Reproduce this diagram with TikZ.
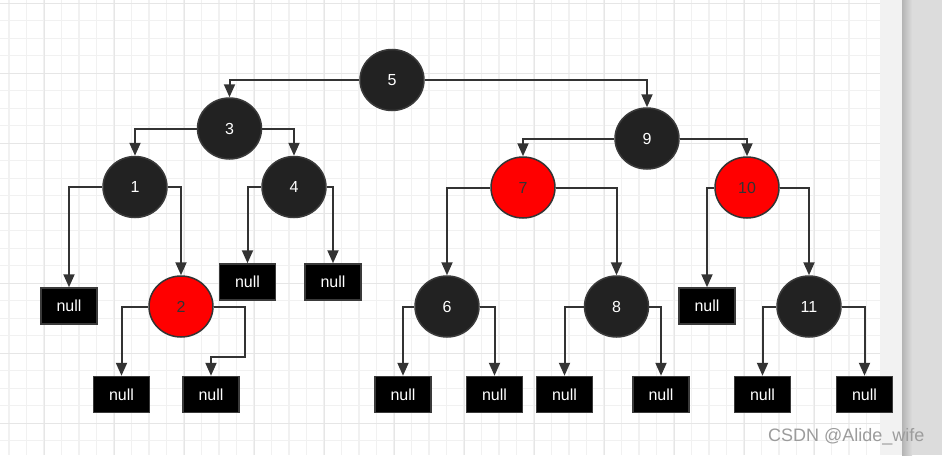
\documentclass[tikz,border=0pt]{standalone}
\usepackage{fontspec}
\setmainfont{Liberation Sans}
\usetikzlibrary{shapes.geometric,arrows.meta}
\definecolor{lineC}{HTML}{333333}
\definecolor{nodeF}{HTML}{222222}
\definecolor{nodeD}{HTML}{3A3A3A}
\definecolor{gridMinor}{HTML}{F1F1F1}
\definecolor{gridMajor}{HTML}{E6E6E6}
\definecolor{stripC}{HTML}{F2F2F2}
\definecolor{barL}{HTML}{B4B4B4}
\definecolor{barR}{HTML}{DCDCDC}
\definecolor{wmark}{HTML}{9C9C9C}
\tikzset{
  bnode/.style={ellipse, inner sep=0pt, minimum width=64pt, minimum height=61pt,
    fill=nodeF, draw=nodeD, line width=1.5pt, text=white,
    font=\fontsize{16}{18}\selectfont},
  rnode/.style={bnode, fill=red, draw=lineC, text=lineC},
  nbox/.style={rectangle, inner sep=0pt, minimum width=56pt, minimum height=36pt,
    fill=black, draw=nodeD, line width=1.5pt, text=white,
    font=\fontsize{16}{18}\selectfont},
  edge/.style={draw=lineC, line width=2pt,
    -{Triangle[width=11pt,length=13pt]}},
}
\begin{document}
\begin{tikzpicture}[x=1pt,y=-1pt]
\useasboundingbox (0,0) rectangle (942,455);
% background
\fill[white] (0,0) rectangle (880,455);
\foreach \x in {9,26.5,...,880} \draw[gridMinor, line width=1.2pt] (\x,0) -- (\x,455);
\foreach \y in {3.3,20.8,...,455} \draw[gridMinor, line width=1.2pt] (0,\y) -- (880,\y);
\foreach \x in {44.3,114.3,...,880} \draw[gridMajor, line width=1.4pt] (\x,0) -- (\x,455);
\foreach \y in {3.3,73.3,...,455} \draw[gridMajor, line width=1.4pt] (0,\y) -- (880,\y);
\fill[stripC] (880,0) rectangle (902,455);
\shade[left color=barL, right color=barR] (902,0) rectangle (912,455);
\fill[barR] (912,0) rectangle (942,455);

% nodes
\node[bnode] (n5) at (392,80) {5};
\node[bnode] (n3) at (229.5,128.5) {3};
\node[bnode] (n9) at (647,138.5) {9};
\node[bnode] (n1) at (135,187) {1};
\node[bnode] (n4) at (294,187) {4};
\node[rnode] (n7) at (523,187.5) {7};
\node[rnode] (n10) at (747,187.5) {10};
\node[rnode] (n2) at (181,306.5) {2};
\node[bnode] (n6) at (447,306.5) {6};
\node[bnode] (n8) at (616.5,306.5) {8};
\node[bnode] (n11) at (809,306.5) {11};

\node[nbox] (a1) at (69,306) {null};
\node[nbox] (a4l) at (247.5,282) {null};
\node[nbox] (a4r) at (333,282) {null};
\node[nbox] (a2l) at (121.5,394.5) {null};
\node[nbox] (a2r) at (211,394.5) {null};
\node[nbox] (a6l) at (403,394.5) {null};
\node[nbox] (a6r) at (494.5,394.5) {null};
\node[nbox] (a8l) at (564.5,394.5) {null};
\node[nbox] (a8r) at (661,394.5) {null};
\node[nbox] (a10) at (707,306) {null};
\node[nbox] (a11l) at (762.5,394.5) {null};
\node[nbox] (a11r) at (864.5,394.5) {null};

% edges
\draw[edge] (n5.west) -| (n3.north);
\draw[edge] (n5.east) -| (n9.north);
\draw[edge] (n3.west) -| (n1.north);
\draw[edge] (n3.east) -| (n4.north);
\draw[edge] (n1.west) -| (a1.north);
\draw[edge] (n1.east) -| (n2.north);
\draw[edge] (n4.west) -| (a4l.north);
\draw[edge] (n4.east) -| (a4r.north);
\draw[edge] (n2.west) -| (a2l.north);
\coordinate (j2) at (245,357);
\draw[edge] (n2.east) -| (j2) -| (a2r.north);
\draw[edge] (n9.west) -| (n7.north);
\draw[edge] (n9.east) -| (n10.north);
\draw[edge] (n7.west) -| (n6.north);
\draw[edge] (n7.east) -| (n8.north);
\draw[edge] (n10.west) -| (a10.north);
\draw[edge] (n10.east) -| (n11.north);
\draw[edge] (n6.west) -| (a6l.north);
\draw[edge] (n6.east) -| (a6r.north);
\draw[edge] (n8.west) -| (a8l.north);
\draw[edge] (n8.east) -| (a8r.north);
\draw[edge] (n11.west) -| (a11l.north);
\draw[edge] (n11.east) -| (a11r.north);

% watermark
\node[anchor=base west, inner sep=0pt, text=wmark, font=\fontsize{18}{20}\selectfont] (wm) at (768,441.5) {CSDN @Alide\_wife};
\end{tikzpicture}
\end{document}
